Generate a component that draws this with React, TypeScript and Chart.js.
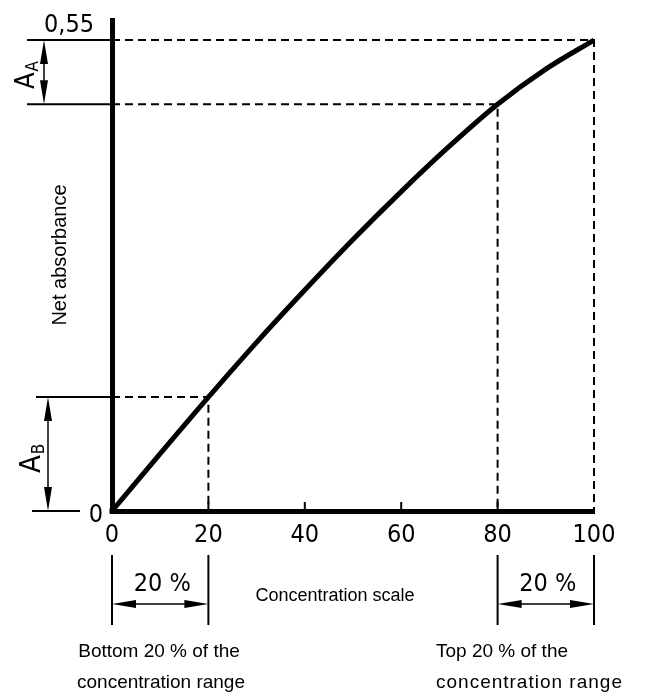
import React, { useEffect, useRef } from "react";
import { Chart, registerables } from "chart.js";

Chart.register(...registerables);

// ---- data ----
const concentration = [0, 10, 20, 30, 40, 50, 60, 70, 80, 90, 100];
const absorbance = [0, 0.067, 0.133, 0.197, 0.258, 0.317, 0.373, 0.426, 0.475, 0.516, 0.55];
const xTickValues = [0, 20, 40, 60, 80, 100];
const yTickLabels = ["0", "0,55"];
const absMax = 0.55; // A at 100 %
const absAt80 = 0.475; // A at 80 %
const absAt20 = 0.133; // A at 20 %
const bottomRange = [0, 20];
const topRange = [80, 100];
const yAxisMax = 0.5734;

const NARROW = "'Liberation Sans Narrow', 'DejaVu Sans Condensed', sans-serif";
const SANS = "'Liberation Sans', Arial, sans-serif";

function arrowHead(ctx: CanvasRenderingContext2D, tx: number, ty: number, dx: number, dy: number) {
  const len = 24;
  const w = 4;
  const bx = tx + dx * len;
  const by = ty + dy * len;
  const px = -dy;
  const py = dx;
  ctx.beginPath();
  ctx.moveTo(tx, ty);
  ctx.lineTo(bx + px * w, by + py * w);
  ctx.lineTo(bx - px * w, by - py * w);
  ctx.closePath();
  ctx.fill();
}

function line(ctx: CanvasRenderingContext2D, x1: number, y1: number, x2: number, y2: number, w: number) {
  ctx.lineWidth = w;
  ctx.beginPath();
  ctx.moveTo(x1, y1);
  ctx.lineTo(x2, y2);
  ctx.stroke();
}

function subLabel(ctx: CanvasRenderingContext2D, main: string, sub: string, bx: number, by: number, size: number, subSize: number) {
  ctx.save();
  ctx.translate(bx, by);
  ctx.rotate(-Math.PI / 2);
  ctx.textAlign = "left";
  ctx.textBaseline = "alphabetic";
  ctx.font = `${size}px ${NARROW}`;
  ctx.fillText(main, 0, 0);
  const w = ctx.measureText(main).width;
  ctx.font = `${subSize}px ${NARROW}`;
  ctx.fillText(sub, w + 1, 4);
  ctx.restore();
}

const annotPlugin = {
  id: "annot",
  afterDraw(chart: any) {
    const { ctx, chartArea } = chart;
    const x = chart.scales.x;
    const y = chart.scales.y;
    ctx.save();
    ctx.fillStyle = "#000";
    ctx.strokeStyle = "#000";
    ctx.setLineDash([]);
    // corner
    ctx.fillRect(chartArea.left - 2.5, chartArea.bottom - 2.5, 5, 5);
    // upward tick marks
    for (const v of xTickValues) {
      if (v > 0 && v < 100) {
        const px = x.getPixelForValue(v);
        line(ctx, px, chartArea.bottom, px, chartArea.bottom - 9, 2);
      }
    }
    const left = chartArea.left;
    const pTop = y.getPixelForValue(absMax);
    const pA = y.getPixelForValue(absAt80);
    const pB = y.getPixelForValue(absAt20);
    const p0 = y.getPixelForValue(0);
    // extension lines left of the axis
    line(ctx, 27, pTop, left, pTop, 2);
    line(ctx, 27, pA, left, pA, 2);
    line(ctx, 36, pB, left, pB, 2);
    line(ctx, 32, p0, 80, p0, 2);
    // dimension arrows
    line(ctx, 44, pTop + 10, 44, pA - 10, 1.5);
    arrowHead(ctx, 44, pTop, 0, 1);
    arrowHead(ctx, 44, pA, 0, -1);
    line(ctx, 48, pB + 10, 48, p0 - 10, 1.5);
    arrowHead(ctx, 48, pB, 0, 1);
    arrowHead(ctx, 48, p0, 0, -1);
    // A labels
    subLabel(ctx, "A", "A", 34, 89, 27, 17);
    subLabel(ctx, "A", "B", 40, 473, 29, 17);
    // y tick labels
    ctx.font = `25px ${NARROW}`;
    ctx.textBaseline = "alphabetic";
    ctx.textAlign = "right";
    ctx.fillText(yTickLabels[0], 103, p0 + 11);
    ctx.textAlign = "center";
    ctx.fillText(yTickLabels[1], 69, pTop - 8);
    // Net absorbance
    ctx.save();
    ctx.translate(66, 255);
    ctx.rotate(-Math.PI / 2);
    ctx.textAlign = "center";
    ctx.textBaseline = "alphabetic";
    ctx.font = `20px ${SANS}`;
    ctx.fillText("Net absorbance", 0, 0);
    ctx.restore();
    // bottom brackets
    const brackets = [bottomRange, topRange];
    for (const r of brackets) {
      const a = x.getPixelForValue(r[0]);
      const b = x.getPixelForValue(r[1]);
      line(ctx, a, 555, a, 625, 2);
      line(ctx, b, 555, b, 625, 2);
      line(ctx, a + 10, 604, b - 10, 604, 1.5);
      arrowHead(ctx, a, 604, 1, 0);
      arrowHead(ctx, b, 604, -1, 0);
      ctx.font = `25px ${NARROW}`;
      ctx.textAlign = "center";
      ctx.fillText(`${r[1] - r[0]} %`, (a + b) / 2 + 2, 591);
    }
    ctx.font = `18px ${SANS}`;
    ctx.textAlign = "center";
    ctx.fillText("Concentration scale", 335, 601);
    ctx.font = `19px ${SANS}`;
    ctx.fillText("Bottom 20 % of the", 159, 657);
    ctx.fillText("concentration range", 161, 688);
    ctx.textAlign = "left";
    ctx.fillText("Top 20 % of the", 436, 657);
    (ctx as any).letterSpacing = "1px";
    ctx.fillText("concentration range", 436, 688);
    (ctx as any).letterSpacing = "0px";
    ctx.restore();
  },
};

export default function App() {
  const ref = useRef<HTMLCanvasElement | null>(null);
  useEffect(() => {
    if (!ref.current) return;
    const curve = concentration.map((c, i) => ({ x: c, y: absorbance[i] }));
    const dashTop = [
      { x: 0, y: absMax },
      { x: topRange[1], y: absMax },
      { x: topRange[1], y: 0 },
    ];
    const dash80 = [
      { x: 0, y: absAt80 },
      { x: topRange[0], y: absAt80 },
      { x: topRange[0], y: 0 },
    ];
    const dash20 = [
      { x: 0, y: absAt20 },
      { x: bottomRange[1], y: absAt20 },
      { x: bottomRange[1], y: 0 },
    ];
    const dashStyle = {
      showLine: true,
      borderColor: "#000",
      borderWidth: 2,
      borderDash: [8, 5],
      pointRadius: 0,
      clip: false as any,
      tension: 0,
    };
    const chart = new Chart(ref.current, {
      type: "scatter",
      data: {
        datasets: [
          { ...dashStyle, data: dashTop },
          { ...dashStyle, data: dash80 },
          { ...dashStyle, data: dash20 },
          {
            data: curve,
            showLine: true,
            borderColor: "#000",
            borderWidth: 5,
            pointRadius: 0,
            cubicInterpolationMode: "monotone",
            clip: false as any,
          },
        ],
      },
      options: {
        animation: false,
        responsive: false,
        events: [],
        layout: { padding: { left: 112, right: 60, top: 20, bottom: 0 } },
        plugins: { legend: { display: false }, tooltip: { enabled: false } },
        scales: {
          x: {
            type: "linear",
            min: 0,
            max: 100,
            afterFit: (s: any) => {
              s.height = 182;
            },
            afterBuildTicks: (s: any) => {
              s.ticks = xTickValues.map((v) => ({ value: v }));
            },
            grid: { display: false, drawTicks: false },
            border: { display: true, color: "#000", width: 5 },
            ticks: {
              color: "#000",
              padding: 9,
              maxRotation: 0,
              font: { family: NARROW, size: 25 },
            },
          },
          y: {
            type: "linear",
            min: 0,
            max: yAxisMax,
            afterFit: (s: any) => {
              s.width = 0;
            },
            grid: { display: false, drawTicks: false },
            border: { display: true, color: "#000", width: 5 },
            ticks: { display: false },
          },
        },
      },
      plugins: [annotPlugin],
    });
    return () => chart.destroy();
  }, []);
  return (
    <div style={{ position: "absolute", left: 0, top: 0, width: 654, height: 693, background: "#fff" }}>
      <canvas ref={ref} width={654} height={693} style={{ width: 654, height: 693, display: "block" }} />
    </div>
  );
}
